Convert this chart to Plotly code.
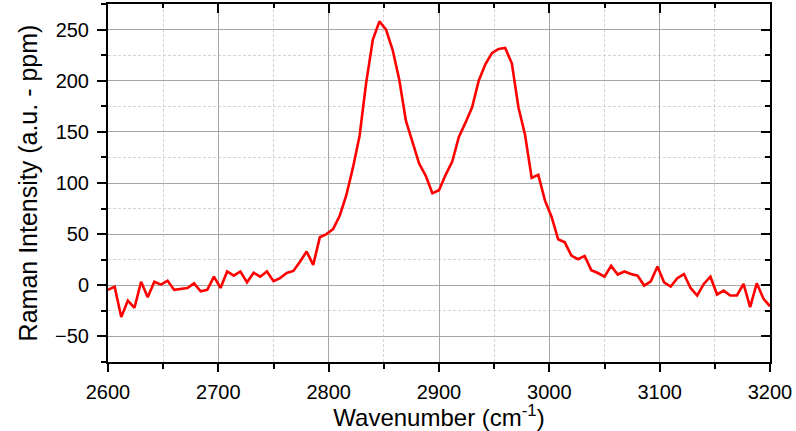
import plotly.graph_objects as go

wavenumber = [2600, 2606, 2612, 2618, 2624, 2630, 2636, 2642, 2648, 2654,
              2660, 2666, 2672, 2678, 2684, 2690, 2696, 2702, 2708, 2714,
              2720, 2726, 2732, 2738, 2744, 2750, 2756, 2762, 2768, 2774,
              2780, 2786, 2792, 2798, 2804, 2810, 2816, 2822, 2828, 2834,
              2840, 2846, 2852, 2858, 2864, 2870, 2876, 2882, 2888, 2894,
              2900, 2906, 2912, 2918, 2924, 2930, 2936, 2942, 2948, 2954,
              2960, 2966, 2972, 2978, 2984, 2990, 2996, 3002, 3008, 3014,
              3020, 3026, 3032, 3038, 3044, 3050, 3056, 3062, 3068, 3074,
              3080, 3086, 3092, 3098, 3104, 3110, 3116, 3122, 3128, 3134,
              3140, 3146, 3152, 3158, 3164, 3170, 3176, 3182, 3188, 3194,
              3200]
intensity = [-4.5, -1.3, -31, -15, -22, 3.5, -11.6, 3.5, 0.7, 4.5,
             -4.5, -3.5, -2.6, 1.9, -5.8, -4.5, 8.4, -2.6, 13.5, 9.4,
             13.5, 2.9, 12.3, 8.4, 13.5, 4, 7, 12, 14, 23,
             33, 20, 47, 50, 55, 68, 88, 115, 146, 198,
             240, 258, 250, 230, 201, 161, 140, 119, 107, 90,
             93, 108, 121, 145, 159, 174, 200, 216, 227, 231,
             232, 217, 174, 147, 105, 108, 83, 67, 45, 42,
             29, 25.5, 28.7, 14.8, 12, 8.4, 19, 10.5, 13.5, 11,
             9.4, -0.3, 3.9, 18.4, 2.9, -1.3, 7, 11, -2.6, -10,
             1.3, 8.4, -9, -5.2, -10, -10, 1.3, -21.3, 2, -13,
             -20.6]

x_range = [2600, 3200]
y_range = [-75, 275]
x_title = "Wavenumber (cm<sup>-1</sup>)"
y_title = "Raman Intensity (a.u. - ppm)"

FONT = "Liberation Sans, Arial, sans-serif"
MAJOR_GRID = "#a6a6a6"
MINOR_GRID = "#d4d4d4"

fig = go.Figure()
fig.add_trace(go.Scatter(x=wavenumber, y=intensity, mode="lines",
                         line=dict(color="#ff0000", width=2.6),
                         showlegend=False, hoverinfo="x+y"))
# invisible trace to activate mirrored axes
fig.add_trace(go.Scatter(x=[wavenumber[0]], y=[intensity[0]], xaxis="x2", yaxis="y2",
                         mode="markers", marker=dict(opacity=0), showlegend=False,
                         hoverinfo="skip"))

common_line = dict(showline=True, linecolor="black", linewidth=2, zeroline=False)

fig.update_layout(
    width=796, height=431,
    margin=dict(l=108, r=23, t=4, b=66),
    paper_bgcolor="white", plot_bgcolor="white",
    font=dict(family=FONT, color="black", size=20),
    xaxis=dict(range=x_range, dtick=100, tick0=2600, ticks="outside", ticklen=8,
               tickwidth=2, tickcolor="black",
               showgrid=True, gridcolor=MAJOR_GRID, gridwidth=1,
               minor=dict(dtick=50, ticks="outside", ticklen=5, tickwidth=2,
                          tickcolor="black", showgrid=True, gridcolor=MINOR_GRID,
                          griddash="3px,2px", gridwidth=1),
               title=dict(text=x_title, font=dict(size=24), standoff=7),
               tickfont=dict(size=20), ticklabelstandoff=3,
               **common_line),
    yaxis=dict(range=y_range, dtick=50, tick0=0, ticks="outside", ticklen=9,
               tickwidth=2, tickcolor="black",
               showgrid=True, gridcolor=MAJOR_GRID, gridwidth=1,
               minor=dict(dtick=25, ticks="outside", ticklen=5, tickwidth=2,
                          tickcolor="black", showgrid=True, gridcolor=MINOR_GRID,
                          griddash="3px,2px", gridwidth=1),
               tickvals=[-50, 0, 50, 100, 150, 200, 250],
               title=dict(text=y_title, font=dict(size=25), standoff=10),
               tickfont=dict(size=20), ticklabelstandoff=4,
               **common_line),
    xaxis2=dict(overlaying="x", side="top", matches="x", range=x_range, dtick=100,
                tick0=2600, ticks="inside", ticklen=9, tickwidth=2, tickcolor="black",
                showticklabels=False, showgrid=False,
                minor=dict(dtick=50, ticks="inside", ticklen=4, tickwidth=2,
                           tickcolor="black", showgrid=False),
                **common_line),
    yaxis2=dict(overlaying="y", side="right", matches="y", range=y_range, dtick=50,
                tick0=0, ticks="inside", ticklen=9, tickwidth=2, tickcolor="black",
                showticklabels=False, showgrid=False,
                minor=dict(dtick=25, ticks="inside", ticklen=5, tickwidth=2,
                           tickcolor="black", showgrid=False),
                **common_line),
)

fig.write_html("out.html")
